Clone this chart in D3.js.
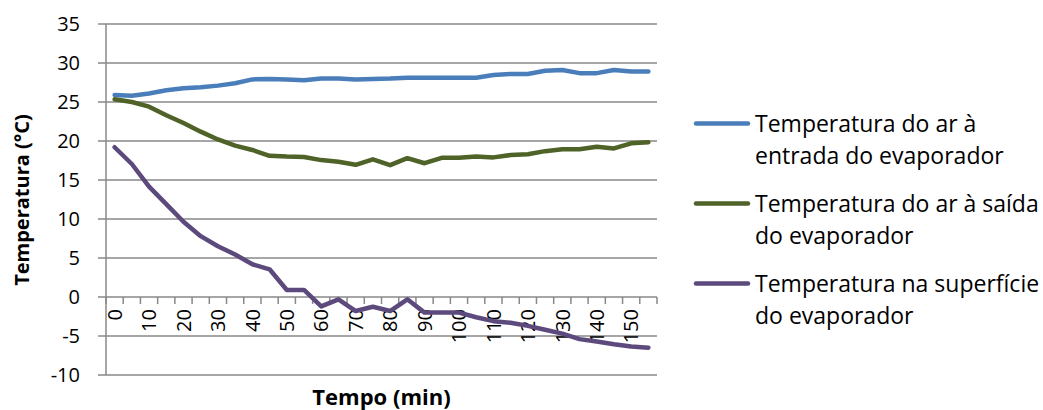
<!DOCTYPE html>
<html>
<head>
<meta charset="utf-8">
<script src="https://cdn.jsdelivr.net/npm/d3@7"></script>
<style>
  html, body { margin: 0; padding: 0; background: #fff; }
  svg { display: block; font-family: "Open Sans", sans-serif; }
</style>
</head>
<body>
<svg id="chart" width="1043" height="410"></svg>
<script>
// Time (min) of each reading
const tempo = [0, 5, 10, 15, 20, 25, 30, 35, 40, 45, 50, 55, 60, 65, 70, 75,
               80, 85, 90, 95, 100, 105, 110, 115, 120, 125, 130, 135, 140, 145, 150, 155];

// Air temperature at the evaporator inlet (°C)
const arEntrada = [25.9, 25.8, 26.1, 26.5, 26.75, 26.9, 27.1, 27.4, 27.9, 27.95, 27.9, 27.8, 28.0, 28.0, 27.9, 27.95,
                   28.0, 28.1, 28.1, 28.1, 28.1, 28.1, 28.45, 28.6, 28.6, 29.0, 29.1, 28.7, 28.7, 29.1, 28.9, 28.9];

// Air temperature at the evaporator outlet (°C)
const arSaida = [25.35, 25.0, 24.4, 23.3, 22.3, 21.2, 20.2, 19.4, 18.85, 18.1, 18.0, 17.95, 17.55, 17.35, 16.95, 17.65,
                 16.9, 17.8, 17.15, 17.85, 17.85, 18.0, 17.9, 18.2, 18.3, 18.7, 18.95, 18.95, 19.25, 19.05, 19.7, 19.85];

// Evaporator surface temperature (°C)
const superficie = [19.2, 17.05, 14.15, 11.9, 9.65, 7.8, 6.5, 5.45, 4.2, 3.55, 0.9, 0.9, -1.2, -0.3, -1.8, -1.25,
                    -1.8, -0.3, -2.0, -2.0, -2.0, -2.6, -3.1, -3.3, -3.7, -4.2, -4.7, -5.4, -5.7, -6.05, -6.35, -6.5];

const yTicks = [-10, -5, 0, 5, 10, 15, 20, 25, 30, 35];

const seriesNames = [
  ["Temperatura do ar à", "entrada do evaporador"],
  ["Temperatura do ar à saída", "do evaporador"],
  ["Temperatura na superfície", "do evaporador"]
];
const seriesColors = ["#4A7EBB", "#4F6228", "#5C4A7D"];
const seriesData = [arEntrada, arSaida, superficie];

const svg = d3.select("#chart");
const plot = { left: 106, right: 657, top: 24, bottom: 375 };
const axisGrey = "#898989";

const x = d3.scaleBand().domain(tempo).range([plot.left, plot.right]).paddingInner(0).paddingOuter(0);
const y = d3.scaleLinear().domain([-10, 35]).range([plot.bottom, plot.top]);
const cx = d => x(d) + x.bandwidth() / 2;

// Horizontal gridlines with the left tick marks
const grid = svg.append("g");
grid.selectAll("line.grid").data(yTicks).join("line")
  .attr("x1", plot.left - 8).attr("x2", plot.right)
  .attr("y1", d => y(d)).attr("y2", d => y(d))
  .attr("stroke", axisGrey).attr("stroke-width", 1.5);

// Vertical axis line
svg.append("line")
  .attr("x1", plot.left).attr("x2", plot.left)
  .attr("y1", plot.top).attr("y2", plot.bottom)
  .attr("stroke", axisGrey).attr("stroke-width", 1.5);

// Y tick labels
svg.append("g").selectAll("text").data(yTicks).join("text")
  .attr("x", 80).attr("y", d => y(d))
  .attr("dy", "0.36em")
  .attr("text-anchor", "end")
  .attr("font-size", 20)
  .attr("fill", "#000")
  .text(d => d);

// Category axis crossing at 0, ticks at the band boundaries
const y0 = y(0);
const bounds = tempo.map(d => x(d)).concat([x(tempo[tempo.length - 1]) + x.bandwidth()]);
svg.append("g").selectAll("line").data(bounds).join("line")
  .attr("x1", d => d).attr("x2", d => d)
  .attr("y1", y0).attr("y2", y0 + 7)
  .attr("stroke", axisGrey).attr("stroke-width", 1.5);

// Every second category is labelled, rotated upwards
svg.append("g").selectAll("text").data(tempo.filter((d, i) => i % 2 === 0)).join("text")
  .attr("transform", d => `translate(${cx(d)},${y0 + 12}) rotate(-90)`)
  .attr("text-anchor", "end")
  .attr("dy", "0.36em")
  .attr("font-size", 20)
  .attr("fill", "#000")
  .text(d => d);

// Series lines
const line = d3.line().x((d, i) => cx(tempo[i])).y(d => y(d));
svg.append("g").selectAll("path").data(seriesData).join("path")
  .attr("d", d => line(d))
  .attr("fill", "none")
  .attr("stroke", (d, i) => seriesColors[i])
  .attr("stroke-width", 4.5)
  .attr("stroke-linejoin", "round")
  .attr("stroke-linecap", "round");

// Axis titles
svg.append("text")
  .attr("x", (plot.left + plot.right) / 2).attr("y", 405)
  .attr("text-anchor", "middle")
  .attr("font-size", 22).attr("font-weight", "bold")
  .text("Tempo (min)");

svg.append("text")
  .attr("transform", `translate(29,200) rotate(-90)`)
  .attr("text-anchor", "middle")
  .attr("font-size", 20).attr("font-weight", "bold")
  .text("Temperatura (°C)");

// Legend
const legend = svg.append("g");
const entries = legend.selectAll("g").data(seriesNames).join("g")
  .attr("transform", (d, i) => `translate(0,${123.5 + i * 80})`);
entries.append("line")
  .attr("x1", 696).attr("x2", 748)
  .attr("y1", 0).attr("y2", 0)
  .attr("stroke", (d, i) => seriesColors[i])
  .attr("stroke-width", 4.5)
  .attr("stroke-linecap", "round");
entries.each(function(lines) {
  const t = d3.select(this).append("text")
    .attr("x", 755).attr("y", 8)
    .attr("font-size", 23)
    .attr("fill", "#000");
  lines.forEach((s, k) => {
    t.append("tspan").attr("x", 755).attr("dy", k === 0 ? 0 : 32.5).text(s);
  });
});
</script>
</body>
</html>
